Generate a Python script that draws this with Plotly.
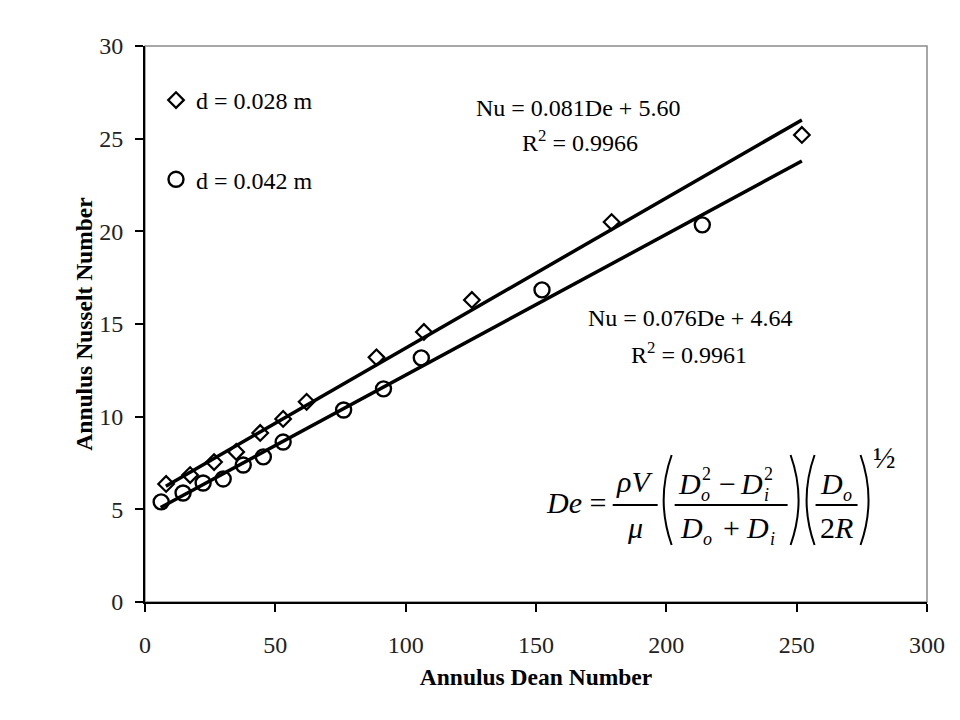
import plotly.graph_objects as go

# ---------------- data ----------------
de_028 = [8.1, 17.3, 26.5, 35.0, 44.2, 53.0, 62.0, 88.8, 107.0, 125.4, 179.0, 252.0]
nu_028 = [6.37, 6.85, 7.55, 8.1, 9.12, 9.88, 10.8, 13.2, 14.57, 16.3, 20.5, 25.2]

de_042 = [6.2, 14.6, 22.3, 30.0, 37.7, 45.4, 53.0, 76.2, 91.5, 106.0, 152.3, 213.8]
nu_042 = [5.4, 5.88, 6.42, 6.64, 7.39, 7.83, 8.63, 10.36, 11.5, 13.17, 16.84, 20.35]

fit_slopes = [0.081, 0.076]
fit_intercepts = [5.60, 4.64]
fit_ranges = [[8.0, 252.0], [6.0, 252.0]]
fit_r2 = ["0.9966", "0.9961"]

series_names = ["d = 0.028 m", "d = 0.042 m"]
x_ticks = [0, 50, 100, 150, 200, 250, 300]
y_ticks = [0, 5, 10, 15, 20, 25, 30]

# ---------------- geometry helpers (window pixels) ----------------
OFF = 8  # page body margin
FW, FH = 944, 704
L, R, T, B = 145, 927.5, 46, 602
XR = [0, 300]
YR = [0, 30]


def px2x(px):
    return XR[0] + (px - L) / (R - L) * (XR[1] - XR[0])


def py2y(py):
    return YR[0] + (B - py) / (B - T) * (YR[1] - YR[0])


FONT = "Liberation Serif, Times New Roman, serif"

fig = go.Figure()

# fitted lines
for s, b, (x0, x1) in zip(fit_slopes, fit_intercepts, fit_ranges):
    fig.add_trace(go.Scatter(
        x=[x0, x1], y=[s * x0 + b, s * x1 + b], mode="lines",
        line=dict(color="black", width=3.5), showlegend=False, hoverinfo="skip"))

# data
fig.add_trace(go.Scatter(
    x=de_028, y=nu_028, mode="markers", name=series_names[0], legendgroup="a",
    marker=dict(symbol="diamond-open", size=12, color="black", line=dict(width=2.2))))
fig.add_trace(go.Scatter(
    x=de_042, y=nu_042, mode="markers", name=series_names[1], legendgroup="b",
    marker=dict(symbol="circle-open", size=15, color="black", line=dict(width=2.4))))

ann = []


def txt(text, px, py, size=30, xanchor="center", yanchor="middle"):
    ann.append(dict(text=text, x=px2x(px), y=py2y(py), xref="x", yref="y",
                    showarrow=False, xanchor=xanchor, yanchor=yanchor,
                    font=dict(family=FONT, size=size, color="black")))


# regression equations
txt("Nu = %.3fDe + %.2f" % (fit_slopes[0], fit_intercepts[0]), 578, 108, 24)
txt("R<sup>2</sup> = " + fit_r2[0], 580, 141, 24)
txt("Nu = %.3fDe + %.2f" % (fit_slopes[1], fit_intercepts[1]), 690, 318, 24)
txt("R<sup>2</sup> = " + fit_r2[1], 689, 353, 24)

# Dean number formula
txt("<i>De</i> =", 608, 502, 30, xanchor="right")
txt("<i>ρV</i>", 635, 481)
txt("<i>μ</i>", 635, 527)

txt("<i>D</i>", 690, 483)
txt("<i>o</i>", 706, 495, 18)
txt("2", 707, 474, 18)
txt("−", 728, 483)
txt("<i>D</i>", 752, 483)
txt("<i>i</i>", 767, 495, 18)
txt("2", 769, 474, 18)

txt("<i>D</i>", 692, 527)
txt("<i>o</i>", 708, 539, 18)
txt("+", 732, 527)
txt("<i>D</i>", 758, 527)
txt("<i>i</i>", 773, 539, 18)

txt("<i>D</i>", 832, 483)
txt("<i>o</i>", 848, 495, 18)
txt("2<i>R</i>", 837, 527)

txt("½", 885, 457, 30)

shapes = []


def hbar(x0, x1, py):
    shapes.append(dict(type="line", xref="x", yref="y", x0=px2x(x0), x1=px2x(x1),
                       y0=py2y(py), y1=py2y(py), line=dict(color="black", width=2)))


def paren(px_end, px_ctrl, top=455, bot=545):
    p = "M %f,%f Q %f,%f %f,%f" % (px2x(px_end), py2y(top), px2x(px_ctrl),
                                   py2y((top + bot) / 2), px2x(px_end), py2y(bot))
    shapes.append(dict(type="path", xref="x", yref="y", path=p,
                       line=dict(color="black", width=2)))


hbar(613, 658, 505)
hbar(675, 788, 505)
hbar(816, 858, 505)
paren(672, 656)
paren(791, 807)
paren(815, 799)
paren(861, 877)

# gray frame (top/right)
shapes.append(dict(type="rect", xref="paper", yref="paper", x0=0, x1=1, y0=0, y1=1,
                   line=dict(color="#8a8a8a", width=1.5), layer="below"))

fig.update_layout(
    width=FW, height=FH,
    margin=dict(l=L - OFF, r=FW - (R - OFF), t=T - OFF, b=FH - (B - OFF), pad=0,
                autoexpand=False),
    paper_bgcolor="white", plot_bgcolor="white",
    font=dict(family=FONT, size=21, color="black"),
    annotations=ann, shapes=shapes,
    showlegend=True,
    legend=dict(x=(156 - L) / (R - L), y=(B - 78) / (B - T), xanchor="left", yanchor="top",
                font=dict(family=FONT, size=24, color="black"), tracegroupgap=45,
                bgcolor="rgba(0,0,0,0)", itemwidth=30),
    xaxis=dict(range=XR, tickvals=x_ticks, showgrid=False, zeroline=False,
               automargin=False,
               showline=True, linecolor="black", linewidth=2,
               ticks="outside", ticklen=8, tickwidth=1.5, tickcolor="black",
               ticklabelstandoff=12,
               tickfont=dict(family=FONT, size=24, color="#222"),
               title=dict(text="<b>Annulus Dean Number</b>", standoff=12,
                          font=dict(family=FONT, size=23.5, color="black"))),
    yaxis=dict(range=YR, tickvals=y_ticks, showgrid=False, zeroline=False,
               automargin=False,
               showline=True, linecolor="black", linewidth=2,
               ticks="outside", ticklen=8, tickwidth=1.5, tickcolor="black",
               ticklabelstandoff=7,
               tickfont=dict(family=FONT, size=24, color="#222"),
               title=dict(text="<b>Annulus Nusselt Number</b>", standoff=0,
                          font=dict(family=FONT, size=23.5, color="black"))),
)

fig.write_html("out.html")
